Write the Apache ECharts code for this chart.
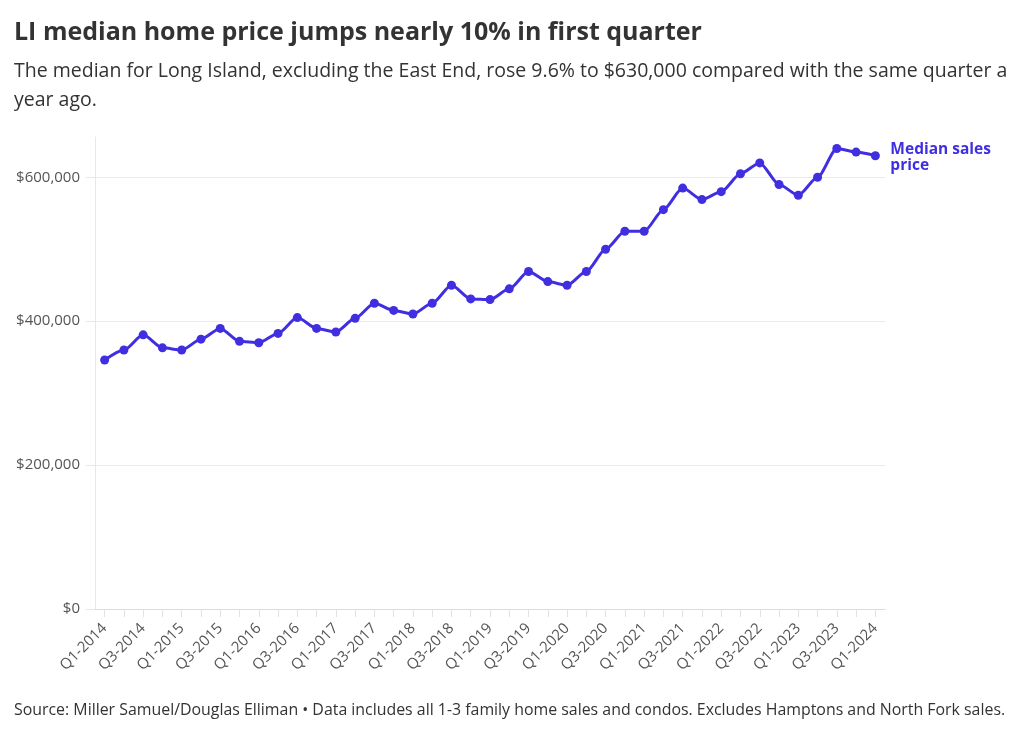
<!DOCTYPE html>
<html>
<head>
<meta charset="utf-8">
<script src="https://cdn.jsdelivr.net/npm/echarts@6/dist/echarts.min.js"></script>
<style>
html,body{margin:0;padding:0;background:#fff;}
#chart{width:1024px;height:737px;}
</style>
</head>
<body>
<div id="chart"></div>
<script>
const quarters = [
  "Q1-2014","Q2-2014","Q3-2014","Q4-2014",
  "Q1-2015","Q2-2015","Q3-2015","Q4-2015",
  "Q1-2016","Q2-2016","Q3-2016","Q4-2016",
  "Q1-2017","Q2-2017","Q3-2017","Q4-2017",
  "Q1-2018","Q2-2018","Q3-2018","Q4-2018",
  "Q1-2019","Q2-2019","Q3-2019","Q4-2019",
  "Q1-2020","Q2-2020","Q3-2020","Q4-2020",
  "Q1-2021","Q2-2021","Q3-2021","Q4-2021",
  "Q1-2022","Q2-2022","Q3-2022","Q4-2022",
  "Q1-2023","Q2-2023","Q3-2023","Q4-2023",
  "Q1-2024"
];
const medianPrice = [
  346000, 360000, 381000, 363000,
  360000, 375000, 390000, 372000,
  370000, 383000, 405000, 390000,
  385000, 404000, 425000, 415000,
  410000, 425000, 450000, 431000,
  430000, 445000, 469000, 455000,
  450000, 469000, 500000, 525000,
  525000, 555000, 585000, 569000,
  580000, 605000, 620000, 590000,
  575000, 600000, 640000, 635000,
  630000
];
const seriesName = "Median sales price";
const yTicks = [0, 200000, 400000, 600000];

const titleText = "LI median home price jumps nearly 10% in first quarter";
const subtitleText = "The median for Long Island, excluding the East End, rose 9.6% to $630,000 compared with the same quarter a\nyear ago.";
const footerText = "Source: Miller Samuel/Douglas Elliman \u2022 Data includes all 1-3 family home sales and condos. Excludes Hamptons and North Fork sales.";

const FONT = "'Open Sans', 'Noto Sans', sans-serif";
const LINE = "#402ee0";

const chart = echarts.init(document.getElementById('chart'), null, {renderer: 'canvas'});
chart.setOption({
  backgroundColor: '#fff',
  animation: false,
  title: [
    {text: titleText, left: 14, top: 18, padding: 0,
     textStyle: {fontFamily: FONT, fontWeight: 'bold', fontSize: 25, lineHeight: 30, color: '#333'}},
    {text: subtitleText, left: 14, top: 57, padding: 0,
     textStyle: {fontFamily: FONT, fontWeight: 'normal', fontSize: 19.5, lineHeight: 29, color: '#333'}},
    {text: footerText, left: 14, top: 700, padding: 0,
     textStyle: {fontFamily: FONT, fontWeight: 'normal', fontSize: 15.9, lineHeight: 20, color: '#333'}}
  ],
  grid: {left: 95, right: 139, top: 137, bottom: 128, containLabel: false},
  xAxis: {
    type: 'category',
    data: quarters,
    boundaryGap: true,
    axisLine: {show: true, lineStyle: {color: '#dcdcdc', width: 1}},
    axisTick: {show: true, alignWithLabel: true, interval: 0, length: 8, lineStyle: {color: '#e2e2e2'}},
    axisLabel: {interval: 1, rotate: 45, fontFamily: FONT, fontSize: 15, color: '#555', margin: 17},
    splitLine: {show: false}
  },
  yAxis: {
    type: 'value',
    min: 0,
    max: 656000,
    interval: 200000,
    axisLine: {show: true, lineStyle: {color: '#e8e8e8', width: 1}},
    axisTick: {show: true, length: 9, lineStyle: {color: '#e8e8e8'}},
    axisLabel: {
      showMaxLabel: false,
      fontFamily: FONT, fontSize: 15, color: '#555', margin: 15,
      formatter: function (v) {
        if (yTicks.indexOf(v) < 0) return '';
        return '$' + v.toLocaleString('en-US');
      }
    },
    splitLine: {show: true, showMaxLine: false, lineStyle: {color: '#ececec', width: 1}}
  },
  series: [{
    name: seriesName,
    type: 'line',
    data: medianPrice,
    smooth: 0.25,
    smoothMonotone: 'x',
    symbol: 'circle',
    symbolSize: 9,
    showAllSymbol: true,
    lineStyle: {color: LINE, width: 3},
    itemStyle: {color: LINE},
    endLabel: {
      show: true,
      distance: 15,
      offset: [0, 2],
      formatter: 'Median sales\nprice',
      fontFamily: FONT, fontWeight: 'bold', fontSize: 15.5, lineHeight: 16, color: LINE
    }
  }]
});
</script>
</body>
</html>
